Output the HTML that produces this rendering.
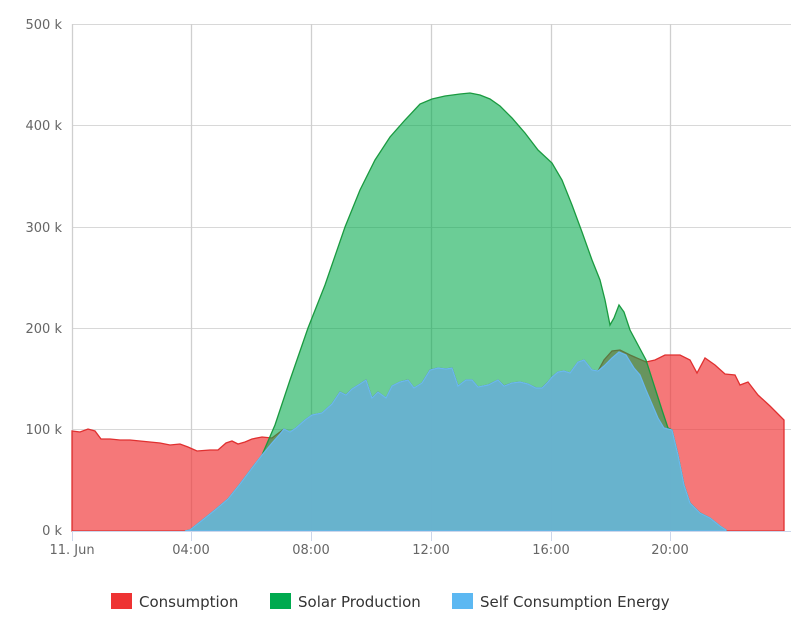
<!DOCTYPE html>
<html><head><meta charset="utf-8"><style>
body{margin:0;background:#fff;}
svg{display:block;font-family:"DejaVu Sans","Liberation Sans",sans-serif;}
</style></head><body>
<svg width="800" height="625" viewBox="0 0 800 625">
<g stroke="#d8d8d8" stroke-width="1">
<line x1="72" y1="24.5" x2="791" y2="24.5"/>
<line x1="72" y1="125.5" x2="791" y2="125.5"/>
<line x1="72" y1="227.5" x2="791" y2="227.5"/>
<line x1="72" y1="328.5" x2="791" y2="328.5"/>
<line x1="72" y1="429.5" x2="791" y2="429.5"/>
</g>
<g stroke="#cfcfcf" stroke-width="1.3">
<line x1="72.5" y1="24" x2="72.5" y2="531"/>
<line x1="191.5" y1="24" x2="191.5" y2="531"/>
<line x1="311.5" y1="24" x2="311.5" y2="531"/>
<line x1="431.5" y1="24" x2="431.5" y2="531"/>
<line x1="551.5" y1="24" x2="551.5" y2="531"/>
<line x1="670.5" y1="24" x2="670.5" y2="531"/>
</g>
<!-- Consumption -->
<path d="M72,531 L72,431 80,432 88,429 95,431 101,439 110,439 120,440 130,440 140,441 150,442 160,443 170,445 180,444 188,447 197,451 210,450 218,450 226,443 232,441 238,444 245,442 252,439 262,437 272,438 284,429 290,432 296,428 305,420 312,415 322,413 332,404 340,392 346,395 352,389 360,384 366,380 372,398 378,392 386,398 392,386 400,382 408,380 414,388 422,383 430,370 438,368 446,369 452,368 458,386 466,380 472,380 478,387 488,385 498,380 504,386 512,383 520,382 528,384 536,388 542,388 548,382 552,377 558,372 564,371 570,373 578,362 584,360 592,370 598,371 604,360 612,351 620,350 630,355 646,362 655,360 665,355 680,355 690,360 697,373 705,358 715,365 725,374 735,375 740,385 748,382 758,395 770,406 784,420 L784,531 Z" fill="#f0383a" fill-opacity="0.68" stroke="#e03030" stroke-width="1.3"/>
<!-- Solar -->
<path d="M185,531 L190,530 200,522 215,510 228,499 240,484 252,468 262,455 275,425 290,380 308,328 325,285 345,227 360,190 375,160 390,137 405,120 420,104 432,99 445,96 460,94 470,93 480,95 490,99 500,106 512,118 525,133 538,150 552,163 562,180 572,205 582,232 592,260 600,280 605,300 610,325 614,318 619,305 624,312 630,330 638,345 646,360 654,385 662,410 668,428 672,430 678,455 684,485 690,503 700,513 710,518 720,526 726,530 L726,531 Z" fill="#00a94a" fill-opacity="0.58" stroke="#1a9a40" stroke-width="1.3"/>
<!-- Self consumption -->
<path d="M185,531 L190,530 200,522 215,510 228,499 240,484 252,468 262,455 272,443 280,434 284,429 290,432 296,428 305,420 312,415 322,413 332,404 340,392 346,395 352,389 360,384 366,380 372,398 378,392 386,398 392,386 400,382 408,380 414,388 422,383 430,370 438,368 446,369 452,368 458,386 466,380 472,380 478,387 488,385 498,380 504,386 512,383 520,382 528,384 536,388 542,388 548,382 552,377 558,372 564,371 570,373 578,362 584,360 592,370 598,371 604,366 612,358 619,352 626,355 634,368 640,375 646,390 652,404 658,418 664,428 672,430 678,455 684,485 690,503 700,513 710,518 720,526 726,530 L726,531 Z" fill="#68b4d1" fill-opacity="0.97" stroke="#6ab8f0" stroke-width="1.2"/>
<line x1="72" y1="531.5" x2="791" y2="531.5" stroke="#ccd6eb"/>
<g stroke="#ccd6eb"><line x1="72.5" y1="531" x2="72.5" y2="541"/><line x1="191.5" y1="531" x2="191.5" y2="541"/><line x1="311.5" y1="531" x2="311.5" y2="541"/><line x1="431.5" y1="531" x2="431.5" y2="541"/><line x1="551.5" y1="531" x2="551.5" y2="541"/><line x1="670.5" y1="531" x2="670.5" y2="541"/></g>
<g fill="#666" font-size="13" text-anchor="end">
<text x="62" y="29">500 k</text><text x="62" y="130">400 k</text><text x="62" y="232">300 k</text><text x="62" y="333">200 k</text><text x="62" y="434">100 k</text><text x="62" y="535">0 k</text>
</g>
<g fill="#666" font-size="13" text-anchor="middle">
<text x="72" y="554">11. Jun</text><text x="191" y="554">04:00</text><text x="311" y="554">08:00</text><text x="431" y="554">12:00</text><text x="551" y="554">16:00</text><text x="670" y="554">20:00</text>
</g>
<g font-size="15" fill="#333">
<rect x="111" y="593" width="21" height="16" fill="#ee3333"/><text x="139" y="607">Consumption</text>
<rect x="270" y="593" width="21" height="16" fill="#00aa4f"/><text x="298" y="607">Solar Production</text>
<rect x="452" y="593" width="21" height="16" fill="#5cb8f2"/><text x="480" y="607">Self Consumption Energy</text>
</g>
</svg>
</body></html>
